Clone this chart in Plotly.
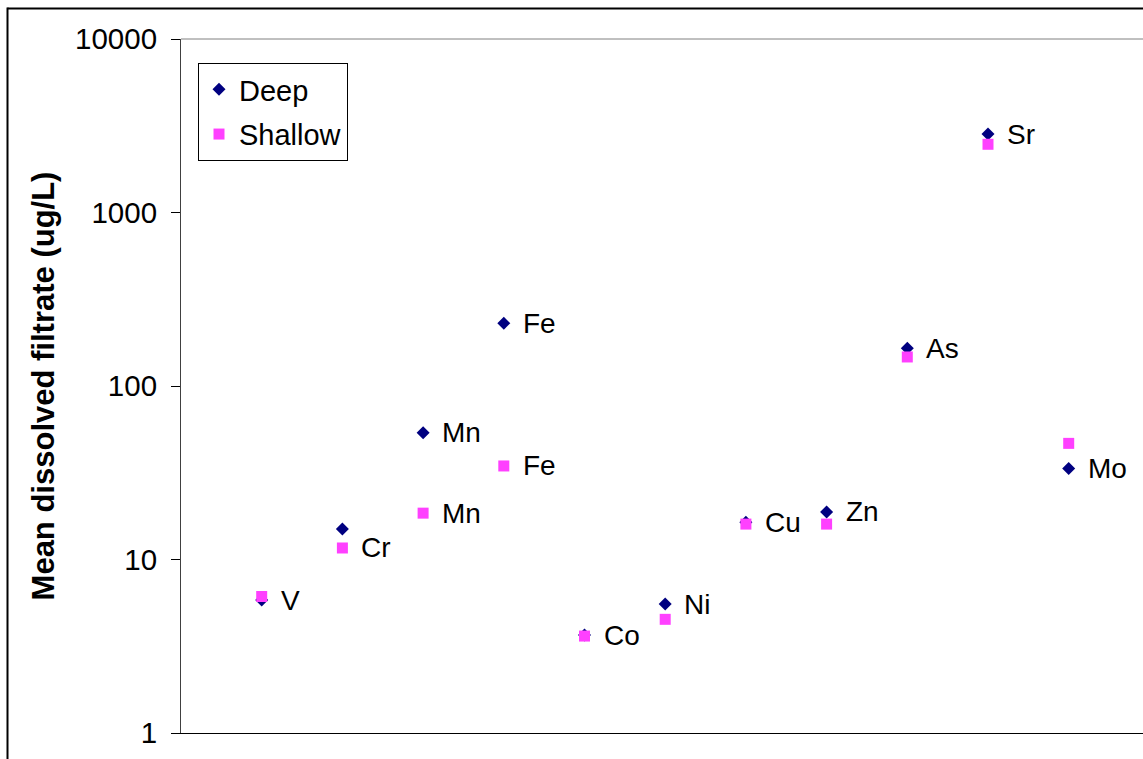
import math
import plotly.graph_objects as go

elements = ["V", "Cr", "Mn", "Fe", "Co", "Ni", "Cu", "Zn", "As", "Sr", "Mo"]
x_pos = list(range(1, 12))
deep = [5.84, 15.0, 53.8, 230, 3.67, 5.54, 16.4, 18.8, 165, 2834, 33.5]
shallow = [6.12, 11.65, 18.5, 34.6, 3.62, 4.52, 16.0, 16.0, 147, 2473, 46.7]
deep_labels = ["V", "", "Mn", "Fe", "Co", "Ni", "Cu", "Zn", "As", "Sr", "Mo"]
shallow_labels = ["", "Cr", "Mn", "Fe", "", "", "", "", "", "", ""]
y_ticks = [1, 10, 100, 1000, 10000]
y_ticktext = ["1", "10", "100", "1000", "10000"]

FONT = "Liberation Sans, Arial, sans-serif"
W, H = 1143, 759
L, R, T, B = 181, 0, 39, 26
pw = W - L - R
ph = H - T - B
UNIT = 80.7  # pixels per category step

fig = go.Figure()
fig.add_trace(go.Scatter(
    x=x_pos, y=deep, mode="markers", name="Deep", legendgroup="deep",
    marker=dict(symbol="diamond", size=10, color="#000080", line=dict(width=0)),
    customdata=elements,
))
fig.add_trace(go.Scatter(
    x=x_pos, y=shallow, mode="markers", name="Shallow", legendgroup="shallow",
    marker=dict(symbol="square", size=11, color="#FF40FF", line=dict(width=0)),
    customdata=elements,
))

annotations = []
for xs, ys, labs in ((x_pos, deep, deep_labels), (x_pos, shallow, shallow_labels)):
    for xv, yv, lab in zip(xs, ys, labs):
        if lab:
            annotations.append(dict(
                x=xv, y=math.log10(yv), xref="x", yref="y", text=lab,
                showarrow=False, xanchor="left", yanchor="middle", xshift=17,
                font=dict(family=FONT, size=28, color="#000000"),
            ))


def px_to_paper_x(px):
    return (px - L) / pw


def px_to_paper_y(py):
    return (H - B - py) / ph


shapes = [
    # plot area top border
    dict(type="line", xref="paper", yref="paper", x0=0, x1=1, y0=1, y1=1,
         line=dict(color="#808080", width=1)),
    # outer chart frame (left and top)
    dict(type="line", xref="paper", yref="paper",
         x0=px_to_paper_x(7.5), x1=px_to_paper_x(7.5),
         y0=px_to_paper_y(7.5), y1=px_to_paper_y(780),
         line=dict(color="#000000", width=2)),
    dict(type="line", xref="paper", yref="paper",
         x0=px_to_paper_x(7.5), x1=px_to_paper_x(1160),
         y0=px_to_paper_y(8.5), y1=px_to_paper_y(8.5),
         line=dict(color="#000000", width=2)),
]

fig.update_layout(
    width=W, height=H,
    margin=dict(l=L, r=R, t=T, b=B),
    paper_bgcolor="white", plot_bgcolor="white",
    font=dict(family=FONT, size=29, color="#000000"),
    showlegend=True,
    legend=dict(
        x=px_to_paper_x(198), y=px_to_paper_y(63), xanchor="left", yanchor="top",
        bordercolor="#000000", borderwidth=1, bgcolor="white",
        traceorder="grouped", tracegroupgap=4,
        font=dict(family=FONT, size=29, color="#000000"),
    ),
    annotations=annotations,
    shapes=shapes,
)
fig.update_xaxes(
    range=[0, pw / UNIT], showgrid=False, zeroline=False, showticklabels=False,
    ticks="", showline=True, linecolor="#000000", linewidth=1,
)
fig.update_yaxes(
    type="log", range=[0, 4], tickvals=y_ticks, ticktext=y_ticktext,
    showgrid=False, zeroline=False, ticks="outside", ticklen=9,
    tickcolor="#000000", showline=True, linecolor="#404040", linewidth=1,
    ticklabelstandoff=8,
    tickfont=dict(family=FONT, size=29.5, color="#000000"),
    title=dict(text="<b>Mean dissolved filtrate (ug/L)</b>", standoff=11,
               font=dict(family=FONT, size=31, color="#000000")),
)

fig.write_html(
    "out.html",
    config={"displayModeBar": False},
    post_script=(
        "document.documentElement.style.overflow='hidden';"
        "document.body.style.overflow='hidden';"
        "document.body.style.margin='0';"
    ),
)
